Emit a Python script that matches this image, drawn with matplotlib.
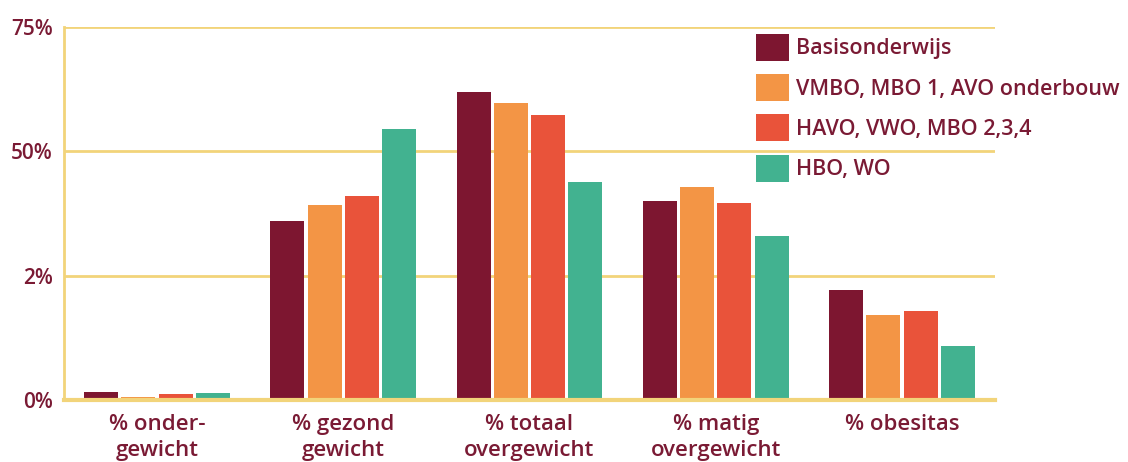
import numpy as np
import matplotlib.pyplot as plt
from matplotlib.patches import Patch

plt.rcParams['font.family'] = ['Open Sans', 'DejaVu Sans']

# Data
categories = ['% onder-\ngewicht', '% gezond\ngewicht', '% totaal\novergewicht',
              '% matig\novergewicht', '% obesitas']
series_names = ['Basisonderwijs', 'VMBO, MBO 1, AVO onderbouw',
                'HAVO, VWO, MBO 2,3,4', 'HBO, WO']
basis = [1.6, 35.9, 62.0, 40.0, 22.1]
vmbo = [0.6, 39.2, 59.8, 42.8, 17.1]
havo = [1.2, 41.0, 57.4, 39.6, 17.9]
hbo = [1.4, 54.4, 43.8, 32.9, 10.8]
ytick_vals = [0, 25, 50, 75]
ytick_labels = ['0%', '2%', '50%', '75%']

colors = ['#7d1630', '#f39545', '#e9533a', '#42b290']
text_color = '#7a1a34'
grid_color = '#f2d47a'

fig = plt.figure(figsize=(11.28, 4.62), dpi=100)
ax = fig.add_axes([0.0567, 0.134, 0.8255, 0.8076])

x = np.arange(len(categories))
width = 0.183
step = 0.2
for i, (vals, c) in enumerate(zip([basis, vmbo, havo, hbo], colors)):
    ax.bar(x + (i - 1.5) * step, vals, width, color=c, zorder=3)

ax.set_xlim(-0.5, 4.5)
ax.set_ylim(0, 75)
ax.set_yticks(ytick_vals)
ax.set_yticklabels(ytick_labels, fontsize=15, fontweight='semibold', color=text_color)
ax.set_xticks(x)
ax.set_xticklabels(categories, fontsize=16, fontweight='semibold', color=text_color,
                   linespacing=1.3)
ax.tick_params(axis='both', length=0)
ax.tick_params(axis='y', pad=8)
ax.tick_params(axis='x', pad=10)

ax.yaxis.grid(True, color=grid_color, linewidth=2, zorder=0)
ax.set_axisbelow(True)
for s in ['top', 'right']:
    ax.spines[s].set_visible(False)
ax.spines['left'].set_color(grid_color)
ax.spines['left'].set_linewidth(2)
ax.spines['bottom'].set_color(grid_color)
ax.spines['bottom'].set_linewidth(3)
ax.spines['bottom'].set_zorder(4)

handles = [Patch(facecolor=c, edgecolor='none') for c in colors]
leg = ax.legend(handles, series_names, loc='upper left', bbox_to_anchor=(0.743, 0.982),
                frameon=False, fontsize=15.5, handlelength=1.55, handleheight=1.55,
                handletextpad=0.3, labelspacing=0.62, borderaxespad=0, borderpad=0)
for t in leg.get_texts():
    t.set_color(text_color)
    t.set_fontweight('semibold')

plt.savefig('out.png', dpi=100)
